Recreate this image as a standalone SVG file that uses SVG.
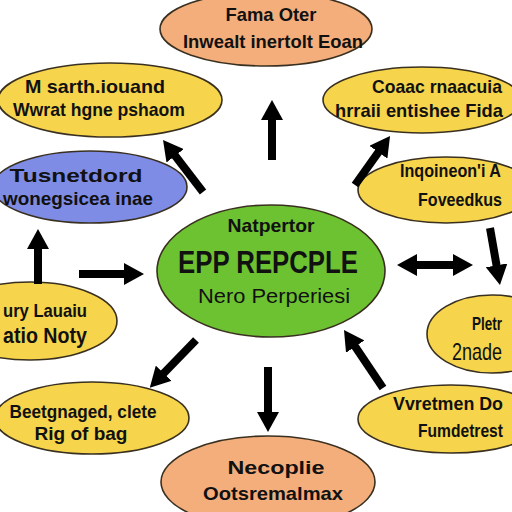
<svg xmlns="http://www.w3.org/2000/svg" width="512" height="512" viewBox="0 0 512 512">
<style>
.n{stroke:#3a3020;stroke-width:1.6}
.o{fill:#F4AE7C}.y{fill:#F6D54C}.b{fill:#7E8CE6}.g{fill:#6DC232}
text{font-family:"Liberation Sans",Arial,sans-serif;font-weight:bold;font-size:19px;fill:#111}
.c{text-anchor:middle}
.big{font-size:32px}
.a line{stroke:#000;stroke-width:8;marker-end:url(#h)}
</style>
<defs>
<marker id="h" viewBox="0 0 20 22" refX="1" refY="11" markerWidth="20" markerHeight="22" markerUnits="userSpaceOnUse" orient="auto-start-reverse">
<path d="M0,0 L20,11 L0,22 z" fill="#000"/>
</marker>
</defs>
<rect width="512" height="512" fill="#fff"/>
<g id="n-top"><ellipse class="n o" cx="266" cy="29" rx="106" ry="37"/>
<text class="c" x="271" y="21" textLength="91" lengthAdjust="spacingAndGlyphs">Fama Oter</text>
<text class="c" x="273" y="48" textLength="180" lengthAdjust="spacingAndGlyphs">Inwealt inertolt Eoan</text></g>
<g id="n-tl"><ellipse class="n y" cx="110" cy="100" rx="112" ry="37"/>
<text class="c" x="95" y="93" textLength="140" lengthAdjust="spacingAndGlyphs">M sarth.iouand</text>
<text class="c" x="99" y="116" textLength="172" lengthAdjust="spacingAndGlyphs">Wwrat hgne pshaom</text></g>
<g id="n-tr"><ellipse class="n y" cx="422" cy="100" rx="99" ry="33"/>
<text class="c" x="437" y="93" textLength="130" lengthAdjust="spacingAndGlyphs">Coaac rnaacuia</text>
<text x="335" y="117" textLength="168" lengthAdjust="spacingAndGlyphs">hrraii entishee Fida</text></g>
<g id="n-lb"><ellipse class="n b" cx="90" cy="187" rx="97" ry="36"/>
<text class="c" x="76" y="182" textLength="133" lengthAdjust="spacingAndGlyphs">Tusnetdord</text>
<text x="3" y="205" textLength="150" lengthAdjust="spacingAndGlyphs">wonegsicea inae</text></g>
<g id="n-r2"><ellipse class="n y" cx="446" cy="190" rx="88" ry="33"/>
<text x="400" y="177" textLength="101" lengthAdjust="spacingAndGlyphs">Inqoineon'i A</text>
<text x="418" y="206" textLength="84" lengthAdjust="spacingAndGlyphs">Foveedkus</text></g>
<g id="n-center"><ellipse class="n g" cx="271" cy="271" rx="114" ry="66"/>
<text class="c" x="271" y="232" textLength="87" lengthAdjust="spacingAndGlyphs">Natpertor</text>
<text class="c big" x="268" y="273" textLength="180" lengthAdjust="spacingAndGlyphs">EPP REPCPLE</text>
<text class="c" x="274" y="303" textLength="152" lengthAdjust="spacingAndGlyphs" style="font-weight:normal;font-size:20px">Nero Perperiesi</text></g>
<g id="n-lm"><ellipse class="n y" cx="30" cy="321" rx="87" ry="39"/>
<text x="3" y="317" textLength="84" lengthAdjust="spacingAndGlyphs">ury Lauaiu</text>
<text x="3" y="343" textLength="84" lengthAdjust="spacingAndGlyphs" style="font-size:22px">atio Noty</text></g>
<g id="n-rm"><ellipse class="n y" cx="492" cy="334" rx="65" ry="39"/>
<text x="472" y="330" textLength="30" lengthAdjust="spacingAndGlyphs">Pletr</text>
<text x="452" y="360" textLength="50" lengthAdjust="spacingAndGlyphs" style="font-size:24px;font-weight:normal">2nade</text></g>
<g id="n-bl"><ellipse class="n y" cx="92" cy="418" rx="97" ry="36"/>
<text class="c" x="83" y="418" textLength="147" lengthAdjust="spacingAndGlyphs">Beetgnaged, clete</text>
<text class="c" x="81" y="440" textLength="93" lengthAdjust="spacingAndGlyphs">Rig of bag</text></g>
<g id="n-br"><ellipse class="n y" cx="451" cy="419" rx="93" ry="34"/>
<text x="393" y="410" textLength="110" lengthAdjust="spacingAndGlyphs">Vvretmen Do</text>
<text x="418" y="437" textLength="85" lengthAdjust="spacingAndGlyphs">Fumdetrest</text></g>
<g id="n-bottom"><ellipse class="n o" cx="268" cy="482" rx="107" ry="46"/>
<text class="c" x="276" y="474" textLength="97" lengthAdjust="spacingAndGlyphs">Necoplie</text>
<text class="c" x="273" y="500" textLength="140" lengthAdjust="spacingAndGlyphs">Ootsremalmax</text></g>
<g id="connectors" class="a">
<line x1="272" y1="160" x2="272" y2="119"/>
<line x1="203" y1="192" x2="174.6" y2="155"/>
<line x1="355" y1="185" x2="379" y2="151.4"/>
<line x1="38" y1="284" x2="38" y2="248"/>
<line x1="79" y1="274" x2="125" y2="274"/>
<line x1="416" y1="265" x2="454" y2="265" style="marker-start:url(#h)"/>
<line x1="490" y1="228" x2="496.7" y2="266.3"/>
<line x1="196" y1="340" x2="163" y2="374"/>
<line x1="268" y1="367" x2="268" y2="413"/>
<line x1="383" y1="388" x2="354.6" y2="345.8"/>
</g>
</svg>
